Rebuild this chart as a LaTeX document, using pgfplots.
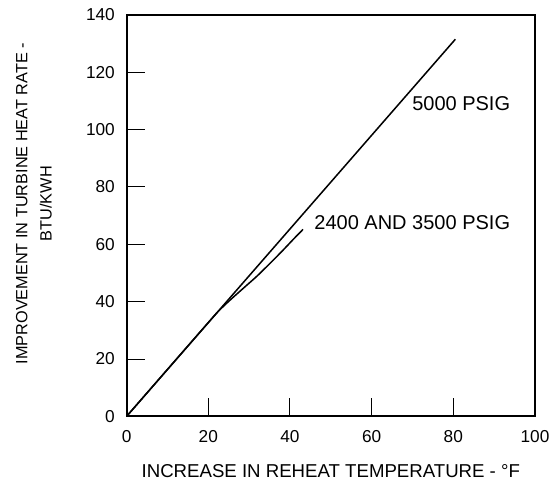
\documentclass[border=0pt]{standalone}
\usepackage{fontspec}
\setmainfont{Liberation Sans}
\usepackage{pgfplots}
\pgfplotsset{compat=1.18}

\begin{document}
\begin{tikzpicture}
\begin{axis}[
  scale only axis, width=296pt, height=291pt,
  xmin=0, xmax=100, ymin=0, ymax=140,
  xtick={0,20,...,100}, ytick={0,20,...,140},
  tick align=inside, major tick length=13.5pt,
  xtick pos=bottom, ytick pos=left,
  tick style={black, line width=0.7pt},
  axis line style={line width=1.3pt},
  /pgf/number format/assume math mode=true,
  ticklabel style={font=\fontsize{12.5}{14}\selectfont},
  xticklabel style={yshift=-7pt},
  yticklabel style={xshift=-5pt},
  xlabel={INCREASE IN REHEAT TEMPERATURE - °F},
  xlabel style={at={(axis description cs:0.5,-0.136)}, anchor=center, font=\fontsize{13.5}{15}\selectfont},
  ylabel={IMPROVEMENT IN TURBINE HEAT RATE -\\BTU/KWH},
  ylabel style={at={(axis description cs:-0.227,0.53)}, anchor=center, rotate=0, align=center, font=\fontsize{11.8}{17.5}\selectfont},
  clip=false,
]
% 5000 psig
\addplot[black, line width=1.1pt] coordinates {(0,0) (80.5,131.5)};
% 2400 and 3500 psig
\addplot[black, line width=1.1pt, smooth] coordinates {(0,0) (20,32.7) (23,37.4) (26,41.4) (29,45.2) (32,49.0) (35,53.2) (38,57.5) (41,62.0) (43.2,65.2)};
\node[anchor=east, font=\fontsize{14.5}{16}\selectfont] at (axis cs:95.1,109) {5000 PSIG};
\node[anchor=east, font=\fontsize{14.5}{16}\selectfont] at (axis cs:95.1,67.7) {2400 AND 3500 PSIG};
\path (rel axis cs:-0.31,-0.159) rectangle (rel axis cs:1.0415,1.037);
\end{axis}
\end{tikzpicture}
\end{document}
